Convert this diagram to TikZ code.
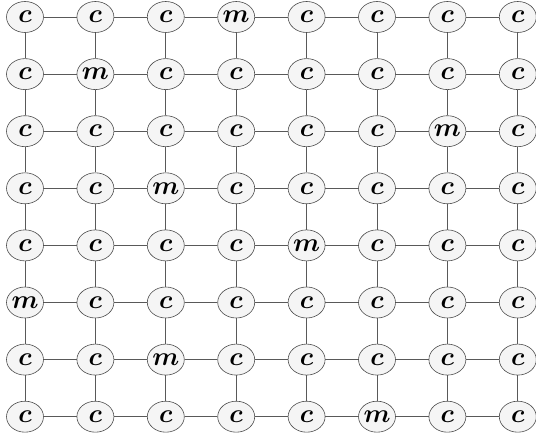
\documentclass[tikz,border=0pt]{standalone}
\usepackage{amsmath,amssymb}
\usepackage{graphicx}
\usepackage{tikz}
\usetikzlibrary{shapes.geometric}

\newcommand{\cellmark}[1]{\makebox[0pt]{\scalebox{1.05}{$\boldsymbol{#1}$}}}

\tikzset{
  cell/.style={ellipse,draw=black!70,fill=black!4,line width=0.6pt,
    minimum width=37pt,minimum height=31pt,inner sep=0pt,
    font=\Huge},
  link/.style={draw=black!65,line width=0.7pt}
}

\begin{document}
\begin{tikzpicture}[x=1pt,y=1pt]
  \useasboundingbox (0,0) rectangle (536,436);

  % Cells, row by row from the top
  \foreach \row [count=\j] in {{c,c,c,m,c,c,c,c},{c,m,c,c,c,c,c,c},
      {c,c,c,c,c,c,m,c},{c,c,m,c,c,c,c,c},{c,c,c,c,m,c,c,c},
      {m,c,c,c,c,c,c,c},{c,c,m,c,c,c,c,c},{c,c,c,c,c,m,c,c}}{
    \foreach \lab [count=\i] in \row {
      \node[cell] (n\i-\j) at ({25+70.4*(\i-1)},{419-57.1*(\j-1)}) {\cellmark{\lab}};
    }
  }

  % Horizontal links
  \foreach \j in {1,...,8}{
    \foreach \i in {1,...,7}{
      \pgfmathtruncatemacro\k{\i+1}
      \draw[link] (n\i-\j) -- (n\k-\j);
    }
  }

  % Vertical links
  \foreach \i in {1,...,8}{
    \foreach \j in {1,...,7}{
      \pgfmathtruncatemacro\k{\j+1}
      \draw[link] (n\i-\j) -- (n\i-\k);
    }
  }

\end{tikzpicture}
\end{document}
